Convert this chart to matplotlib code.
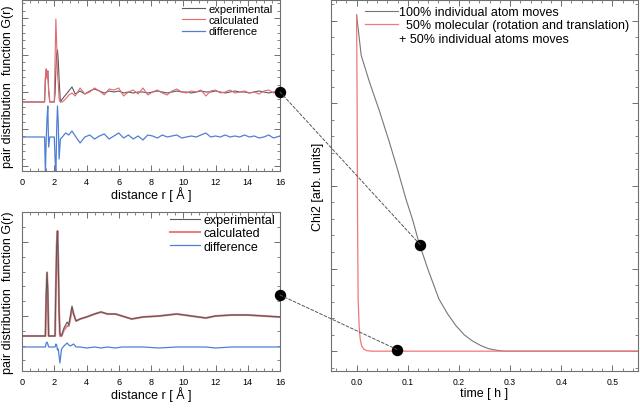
"""PDF fits (top / bottom) and Chi2 convergence for the two move schemes."""

import matplotlib
matplotlib.use("Agg")
import matplotlib.pyplot as plt
from matplotlib.patches import ConnectionPatch
from matplotlib.ticker import MultipleLocator, AutoMinorLocator

plt.rcParams["font.family"] = ["Liberation Sans", "DejaVu Sans"]

# ---- top PDF panel (100% individual atom moves), arb. units ----
r_top = [0, 1.40, 1.45, 1.50, 1.55, 1.60, 1.65, 1.72, 2.00, 2.05, 2.10, 2.15,
         2.20, 2.25, 2.30, 2.38, 2.5, 2.7, 2.9, 3.1, 3.3, 3.6, 3.9, 4.2, 4.5,
         4.8, 5.1, 5.4, 5.7, 6.0, 6.3, 6.6, 6.9, 7.2, 7.5, 7.8, 8.1, 8.4, 8.7,
         9.0, 9.3, 9.6, 9.9, 10.2, 10.5, 10.8, 11.1, 11.4, 11.7, 12.0, 12.3,
         12.6, 12.9, 13.2, 13.5, 13.8, 14.1, 14.4, 14.7, 15.0, 15.3, 15.6, 16.0]
exp_top = [-10, -10, 13, 23, 15, 21, 3, -10, -10, -2, 23, 38,
           42, 31, 13, -10, -7, -3, 1, 5, -2, 1, -2, 1, 3,
           1, -1, 1, 0, 1, -1, 0, -1, 0, 0, -1, 0, 1, 0,
           -1, 0, 1, 0, 0, -1, 0, 1, 0, 0, 1, 0,
           -1, 0, 1, 0, 0, -1, 0, 1, 0, -1, 0, 0]
calc_top = [-10, -10, 15, 23, 13, 21, 1, -10, -10, 33, 73, 48,
            18, 8, -7, -10, -10, -7, -3, -1, -4, 4, -2, 0, 4,
            1, -3, 3, 2, 4, -4, 0, 2, -2, 4, -3, 0, 2, -1,
            -3, 1, 3, 0, -1, 1, 0, 2, -4, 1, 2, -1,
            0, 2, -1, 0, 1, -1, 0, -2, 1, 2, -1, 0]
diff_top = [-45, -45, -82, -47, -27, -14, -55, -45, -45, -67, -85, -37,
            -14, -32, -67, -47, -45, -41, -43, -39, -44, -51, -45, -43, -47,
            -44, -42, -47, -44, -41, -46, -43, -47, -44, -48, -43, -44, -46, -43,
            -45, -44, -43, -46, -45, -44, -45, -43, -41, -45, -44, -45,
            -43, -45, -44, -45, -43, -45, -44, -46, -45, -43, -46, -44]

# ---- bottom PDF panel (50% molecular + 50% atom moves) ----
r_bot = [0, 1.45, 1.50, 1.55, 1.60, 1.65, 2.05, 2.10, 2.15, 2.20, 2.25, 2.30,
         2.35, 2.45, 2.6, 2.8, 2.9, 3.0, 3.1, 3.2, 3.35, 3.6, 4.0, 4.5, 4.9,
         5.3, 5.8, 6.2, 6.8, 7.5, 8.5, 9.6, 10.5, 11.4, 12.0, 13.0, 14.0, 15.0, 16.0]
exp_bot = [-20, -20, 20, 44, 25, -20, -20, 30, 70, 85, 55, 5,
           -18, -20, -12, -6, -9, 0, 10, 2, -5, -3, -1, 2, 4,
           2, 2, 0, -3, -1, 0, 2, 0, -2, 0, 1, 1, 0, -1]
calc_bot = [-20, -20, 19, 43, 24, -20, -20, 29, 70, 85, 54, 4,
            -20, -20, -14, -10, -10, -2, 8, 2, -5, -3, -1, 2, 4,
            2, 2, 0, -3, -1, 0, 2, 0, -2, 0, 1, 1, 0, -1]
diff_bot = [-31, -31, -27, -26, -28, -31, -31, -28, -29, -34, -33, -40,
            -47, -33, -30, -27, -29, -30, -29, -28, -31, -31, -32, -31, -32,
            -31, -32, -31, -31, -31, -32, -31, -31, -31, -32, -31, -31, -31, -31]

# ---- Chi2 vs time ----
t_atom = [0.0, 0.009, 0.025, 0.045, 0.064, 0.08, 0.0965, 0.11, 0.122, 0.14,
          0.161, 0.178, 0.194, 0.21, 0.226, 0.242, 0.258, 0.275, 0.29, 0.55]
chi_atom = [4.07, 3.58, 3.26, 2.90, 2.53, 2.20, 1.84, 1.58, 1.31, 0.98,
            0.63, 0.45, 0.31, 0.20, 0.125, 0.07, 0.03, 0.01, 0.0, 0.0]
t_mol = [0.0, 0.001, 0.002, 0.003, 0.005, 0.007, 0.010, 0.014, 0.020, 0.030, 0.55]
chi_mol = [4.07, 3.03, 1.45, 0.63, 0.30, 0.15, 0.06, 0.024, 0.006, 0.0, 0.0]

# highlighted snapshots (pdf panel r, G) -> (chi2 panel t, chi2)
snap_top = (16, 0)
snap_bot = (16, 21)
snap_atom = (0.124, 1.29)
snap_mol = (0.079, 0.02)

C_EXP = "#5a5a5a"
C_CALC = "#e46a6e"
C_DIFF = "#4f80d4"
C_AX = "#707070"


def style_axes(ax, labelsize):
    for s in ax.spines.values():
        s.set_color(C_AX)
        s.set_linewidth(0.8)
    ax.tick_params(which="both", direction="in", top=True, right=True,
                   color=C_AX, labelsize=labelsize, pad=4)
    ax.tick_params(which="major", length=4, width=0.7)
    ax.tick_params(which="minor", length=2, width=0.6)


fig = plt.figure(figsize=(6.4, 4.1), dpi=100)
ax_t = fig.add_axes([0.0344, 0.5805, 0.4031, 0.4171])
ax_b = fig.add_axes([0.0344, 0.0927, 0.4031, 0.3878])
ax_r = fig.add_axes([0.5172, 0.0927, 0.4797, 0.9049])

# top pdf
ax_t.plot(r_top, exp_top, color=C_EXP, lw=0.8, label="experimental")
ax_t.plot(r_top, calc_top, color=C_CALC, lw=0.8, label="calculated")
ax_t.plot(r_top, diff_top, color=C_DIFF, lw=0.9, label="difference")
ax_t.set_xlim(0, 16)
ax_t.set_ylim(-79, 92)
ax_t.yaxis.set_major_locator(MultipleLocator(37))
ax_t.legend(loc="upper left", bbox_to_anchor=(0.62, 0.975), frameon=False,
            fontsize=8, handlelength=2.1, handletextpad=0.3, labelspacing=0.1,
            borderpad=0, borderaxespad=0)

# bottom pdf
ax_b.plot(r_bot, exp_bot, color=C_EXP, lw=0.8, label="experimental", zorder=3)
ax_b.plot(r_bot, calc_bot, color=C_CALC, lw=1.5, label="calculated", alpha=0.85)
ax_b.plot(r_bot, diff_bot, color=C_DIFF, lw=0.9, label="difference")
ax_b.set_xlim(0, 16)
ax_b.set_ylim(-55, 104)
ax_b.yaxis.set_major_locator(MultipleLocator(74))
ax_b.legend(loc="upper left", bbox_to_anchor=(0.574, 0.987), frameon=False,
            fontsize=9, handlelength=2.4, handletextpad=0.25, labelspacing=0.1,
            borderpad=0, borderaxespad=0)

for ax in (ax_t, ax_b):
    style_axes(ax, 6.6)
    ax.xaxis.set_major_locator(MultipleLocator(2))
    ax.xaxis.set_minor_locator(MultipleLocator(0.5))
    ax.yaxis.set_minor_locator(AutoMinorLocator(5))
    ax.set_yticklabels([])
    ax.set_xlabel("distance r [ Å ]", fontsize=9, labelpad=0.5)
    ax.set_ylabel("pair distribution  function G(r)", fontsize=9, labelpad=2)

# chi2
ax_r.plot(t_atom, chi_atom, color="#777777", lw=0.8,
          label="100% individual atom moves")
ax_r.plot(t_mol, chi_mol, color="#f07878", lw=0.9,
          label="  50% molecular (rotation and translation)")
ax_r.plot([], [], ls="none", label="+ 50% individual atoms moves")
ax_r.set_xlim(-0.05, 0.55)
ax_r.set_ylim(-0.24, 4.25)
style_axes(ax_r, 6.2)
ax_r.xaxis.set_major_locator(MultipleLocator(0.1))
ax_r.xaxis.set_minor_locator(MultipleLocator(0.02))
ax_r.yaxis.set_major_locator(MultipleLocator(1))
ax_r.yaxis.set_minor_locator(AutoMinorLocator(5))
ax_r.set_yticklabels([])
ax_r.set_xlabel("time [ h ]", fontsize=9, labelpad=1)
ax_r.set_ylabel("Chi2 [arb. units]", fontsize=9, labelpad=1)
ax_r.legend(loc="upper left", bbox_to_anchor=(0.111, 0.984), frameon=False,
            fontsize=9, handlelength=2.6, handletextpad=0.1, labelspacing=0.12,
            borderpad=0, borderaxespad=0)

# snapshot markers and dashed connectors
for ax_a, pa, pb in ((ax_t, snap_top, snap_atom), (ax_b, snap_bot, snap_mol)):
    con = ConnectionPatch(xyA=pa, coordsA=ax_a.transData, xyB=pb,
                          coordsB=ax_r.transData, ls=(0, (3, 2)), lw=0.7,
                          color="#555555", zorder=5)
    fig.add_artist(con)
    ax_a.plot(*pa, "o", ms=7.2, color="k", clip_on=False, zorder=10)
    ax_r.plot(*pb, "o", ms=7.2, color="k", clip_on=False, zorder=10)

fig.savefig("out.png", dpi=100)
